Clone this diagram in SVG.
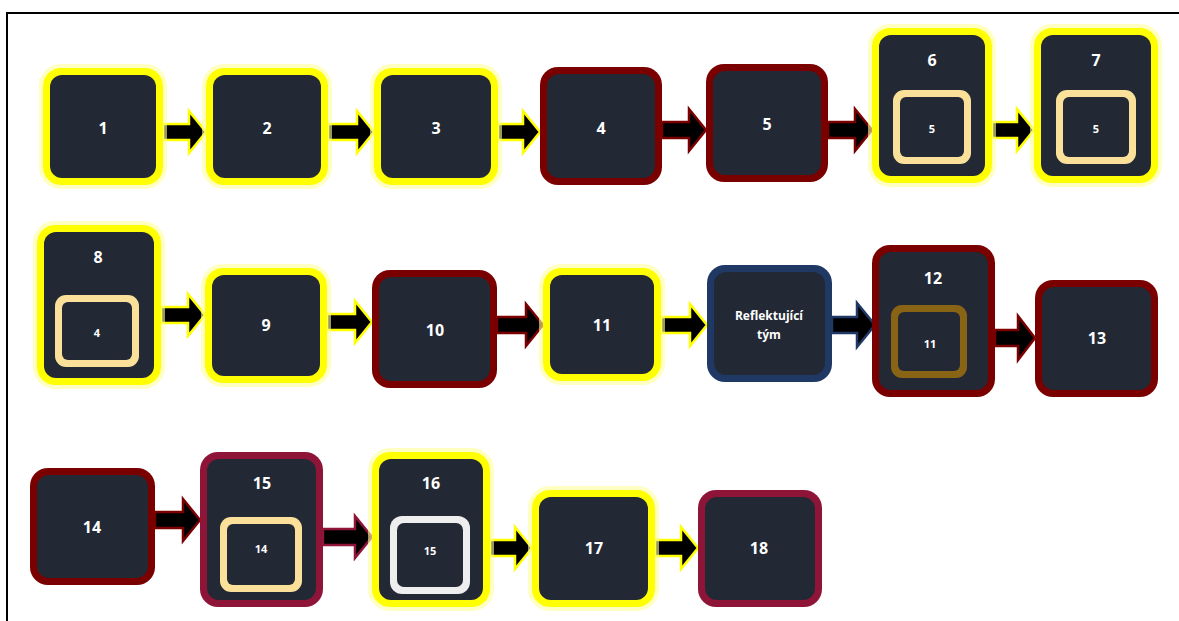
<svg xmlns="http://www.w3.org/2000/svg" width="1179" height="621" viewBox="0 0 1179 621">
<style>
.bg{fill:#ffffff}
.frame{fill:none;stroke:#000;stroke-width:2}
.y{fill:#ffff00}
.r{fill:#7a0000}
.c{fill:#8e1538}
.n{fill:#1f3864}
.core{fill:#222935}
.tan{fill:#fbe09a}
.gold{fill:#8a6415}
.wht{fill:#eeeeee}
.glow{fill:none;stroke:#ffff99;stroke-width:4;opacity:0.6}
text{font-family:"Open Sans","Liberation Sans",sans-serif;font-weight:700;fill:#ffffff;text-anchor:middle;dominant-baseline:central}
.big{font-size:16px}
.sm{font-size:11px}
.rt{font-size:12px}
.ar{fill:#000;stroke-width:2.5;stroke-linejoin:miter}
.ay{stroke:#ffff00}
.arr{stroke:#7a0000}
.ac{stroke:#8e1538}
.an{stroke:#1f3864}
</style>
<rect class="bg" x="0" y="0" width="1179" height="621"/>
<path class="frame" d="M7 621 V13 H1179"/>

<g id="connectors">
<path class="ar ay" d="M163 124 H189 V111 L206 132 L189 153 V140 H163 Z"/>
<path class="ar ay" d="M328 124 H357 V111 L374 132 L357 153 V140 H328 Z"/>
<path class="ar ay" d="M498 124 H523 V111 L540 132 L523 153 V140 H498 Z"/>
<path class="ar arr" d="M662 122 H689 V109 L706 130 L689 151 V138 H662 Z"/>
<path class="ar arr" d="M828 122 H855 V109 L872 130 L855 151 V138 H828 Z"/>
<path class="ar ay" d="M992 122 H1017 V109 L1034 130 L1017 151 V138 H992 Z"/>
<path class="ar ay" d="M161 307 H188 V294 L205 315 L188 336 V323 H161 Z"/>
<path class="ar ay" d="M327 314 H355 V301 L372 322 L355 343 V330 H327 Z"/>
<path class="ar arr" d="M497 317 H526 V304 L543 325 L526 346 V333 H497 Z"/>
<path class="ar ay" d="M661 317 H690 V304 L707 325 L690 346 V333 H661 Z"/>
<path class="ar an" d="M832 317 H857 V303 L875 325 L857 347 V333 H832 Z"/>
<path class="ar arr" d="M995 330 H1018 V316 L1035 338 L1018 360 V346 H995 Z"/>
<path class="ar arr" d="M155 512 H183 V499 L200 520 L183 541 V528 H155 Z"/>
<path class="ar ac" d="M323 529 H355 V516 L372 537 L355 558 V545 H323 Z"/>
<path class="ar ay" d="M490 540 H515 V527 L532 548 L515 569 V556 H490 Z"/>
<path class="ar ay" d="M655 540 H681 V527 L698 548 L681 569 V556 H655 Z"/>
</g>

<g id="n1"><rect class="glow" x="41" y="66" width="124" height="121" rx="20"/><rect class="y" x="43" y="68" width="120" height="117" rx="18"/><rect class="core" x="50" y="75" width="106" height="103" rx="12"/><text class="big" x="103" y="128">1</text></g>
<g id="n2"><rect class="glow" x="204" y="66" width="126" height="121" rx="20"/><rect class="y" x="206" y="68" width="122" height="117" rx="18"/><rect class="core" x="213" y="75" width="108" height="103" rx="12"/><text class="big" x="267" y="128">2</text></g>
<g id="n3"><rect class="glow" x="372" y="66" width="128" height="121" rx="20"/><rect class="y" x="374" y="68" width="124" height="117" rx="18"/><rect class="core" x="381" y="75" width="110" height="103" rx="12"/><text class="big" x="436" y="128">3</text></g>
<g id="n4"><rect class="r" x="540" y="67" width="122" height="118" rx="18"/><rect class="core" x="547" y="74" width="108" height="104" rx="12"/><text class="big" x="601" y="128">4</text></g>
<g id="n5"><rect class="r" x="706" y="64" width="122" height="118" rx="18"/><rect class="core" x="713" y="71" width="108" height="104" rx="12"/><text class="big" x="767" y="124">5</text></g>
<g id="n6"><rect class="glow" x="870" y="26" width="124" height="159" rx="20"/><rect class="y" x="872" y="28" width="120" height="155" rx="18"/><rect class="core" x="879" y="35" width="106" height="141" rx="12"/><text class="big" x="932" y="60">6</text><rect class="tan" x="893" y="90" width="78" height="74" rx="11"/><rect class="core" x="900" y="97" width="64" height="60" rx="6"/><text class="sm" x="932" y="128">5</text></g>
<g id="n7"><rect class="glow" x="1032" y="26" width="128" height="159" rx="20"/><rect class="y" x="1034" y="28" width="124" height="155" rx="18"/><rect class="core" x="1041" y="35" width="110" height="141" rx="12"/><text class="big" x="1096" y="60">7</text><rect class="tan" x="1056" y="90" width="80" height="74" rx="11"/><rect class="core" x="1063" y="97" width="66" height="60" rx="6"/><text class="sm" x="1096" y="128">5</text></g>

<g id="n8"><rect class="glow" x="35" y="223" width="128" height="164" rx="20"/><rect class="y" x="37" y="225" width="124" height="160" rx="18"/><rect class="core" x="44" y="232" width="110" height="146" rx="12"/><text class="big" x="98" y="257">8</text><rect class="tan" x="55" y="295" width="84" height="72" rx="11"/><rect class="core" x="62" y="302" width="70" height="58" rx="6"/><text class="sm" x="97" y="332">4</text></g>
<g id="n9"><rect class="glow" x="203" y="266" width="126" height="119" rx="20"/><rect class="y" x="205" y="268" width="122" height="115" rx="18"/><rect class="core" x="212" y="275" width="108" height="101" rx="12"/><text class="big" x="266" y="325">9</text></g>
<g id="n10"><rect class="r" x="372" y="270" width="125" height="118" rx="18"/><rect class="core" x="379" y="277" width="111" height="104" rx="12"/><text class="big" x="435" y="330">10</text></g>
<g id="n11"><rect class="glow" x="541" y="266" width="122" height="117" rx="20"/><rect class="y" x="543" y="268" width="118" height="113" rx="18"/><rect class="core" x="550" y="275" width="104" height="99" rx="12"/><text class="big" x="602" y="325">11</text></g>
<g id="nR"><rect class="n" x="707" y="265" width="125" height="117" rx="18"/><rect class="core" x="714" y="272" width="111" height="103" rx="12"/><text class="rt" x="769" y="315">Reflektující</text><text class="rt" x="769" y="334">tým</text></g>
<g id="n12"><rect class="r" x="872" y="245" width="123" height="152" rx="18"/><rect class="core" x="879" y="252" width="109" height="138" rx="12"/><text class="big" x="933" y="278">12</text><rect class="gold" x="891" y="305" width="76" height="73" rx="11"/><rect class="core" x="898" y="312" width="62" height="59" rx="6"/><text class="sm" x="930" y="343">11</text></g>
<g id="n13"><rect class="r" x="1035" y="280" width="123" height="117" rx="18"/><rect class="core" x="1042" y="287" width="109" height="103" rx="12"/><text class="big" x="1097" y="338">13</text></g>

<g id="n14"><rect class="r" x="30" y="468" width="125" height="117" rx="18"/><rect class="core" x="37" y="475" width="111" height="103" rx="12"/><text class="big" x="92" y="527">14</text></g>
<g id="n15"><rect class="c" x="200" y="452" width="123" height="155" rx="18"/><rect class="core" x="207" y="459" width="109" height="141" rx="12"/><text class="big" x="262" y="483">15</text><rect class="tan" x="220" y="517" width="82" height="75" rx="11"/><rect class="core" x="227" y="524" width="68" height="61" rx="6"/><text class="sm" x="261" y="548">14</text></g>
<g id="n16"><rect class="glow" x="370" y="450" width="122" height="159" rx="20"/><rect class="y" x="372" y="452" width="118" height="155" rx="18"/><rect class="core" x="379" y="459" width="104" height="141" rx="12"/><text class="big" x="431" y="483">16</text><rect class="wht" x="390" y="516" width="80" height="78" rx="12"/><rect class="core" x="397" y="523" width="66" height="64" rx="7"/><text class="sm" x="430" y="550">15</text></g>
<g id="n17"><rect class="glow" x="530" y="488" width="127" height="121" rx="20"/><rect class="y" x="532" y="490" width="123" height="117" rx="18"/><rect class="core" x="539" y="497" width="109" height="103" rx="12"/><text class="big" x="594" y="548">17</text></g>
<g id="n18"><rect class="c" x="698" y="490" width="124" height="117" rx="18"/><rect class="core" x="705" y="497" width="110" height="103" rx="12"/><text class="big" x="759" y="548">18</text></g>
</svg>
